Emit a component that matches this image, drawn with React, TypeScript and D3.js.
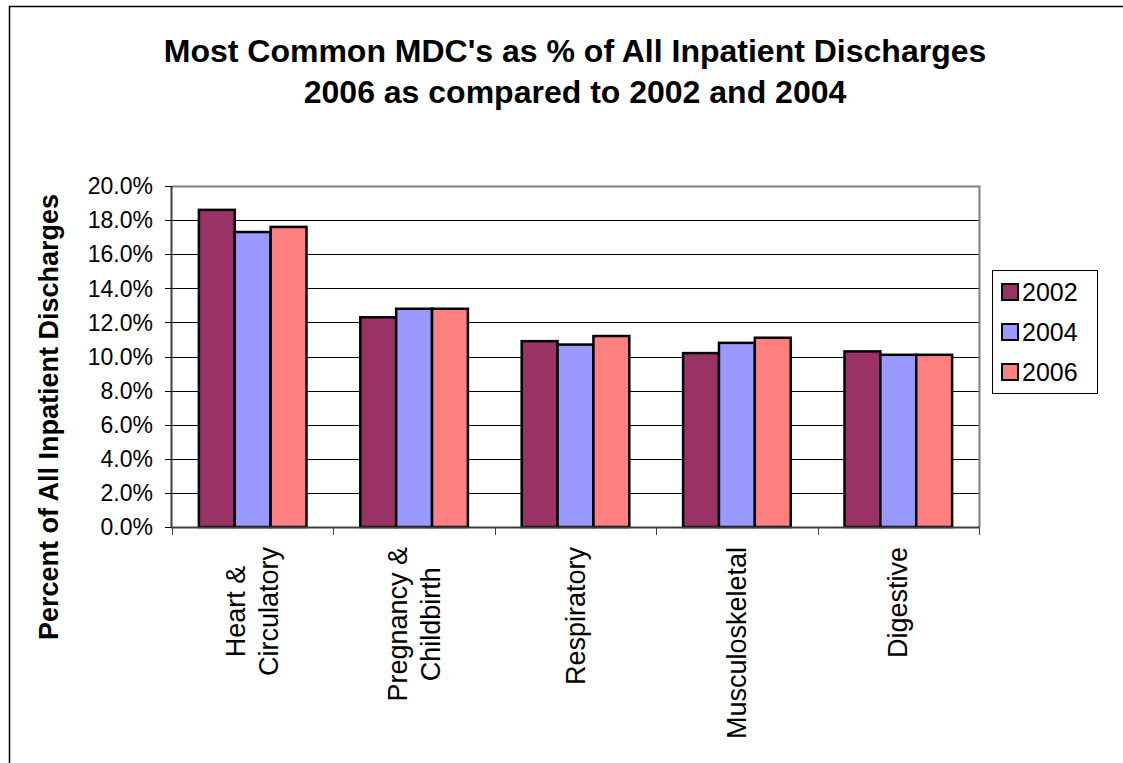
import React, { useEffect, useRef } from "react";
import * as d3 from "d3";

const categories = ["Heart & Circulatory", "Pregnancy & Childbirth", "Respiratory", "Musculoskeletal", "Digestive"];
const categoryLines = [["Heart &", "Circulatory"], ["Pregnancy &", "Childbirth"], ["Respiratory"], ["Musculoskeletal"], ["Digestive"]];
const seriesNames = ["2002", "2004", "2006"];
const values2002 = [0.186, 0.123, 0.109, 0.102, 0.103];
const values2004 = [0.173, 0.128, 0.107, 0.108, 0.101];
const values2006 = [0.176, 0.128, 0.112, 0.111, 0.101];
const seriesColors = ["#993366", "#9999FF", "#FF8080"];
const yTicks = [0, 0.02, 0.04, 0.06, 0.08, 0.1, 0.12, 0.14, 0.16, 0.18, 0.2];
const titleLines = ["Most Common MDC's as % of All Inpatient Discharges", "2006 as compared to 2002 and 2004"];
const yAxisTitle = "Percent of All Inpatient Discharges";

const W = 1123, H = 763;
const FONT = "'Liberation Sans', Arial, Helvetica, sans-serif";

export default function App() {
  const ref = useRef<SVGSVGElement | null>(null);
  useEffect(() => {
    document.body.style.margin = "0";
    document.body.style.overflow = "hidden";
    const svg = d3.select(ref.current!);
    svg.selectAll("*").remove();

    const left = 172, right = 979, top = 186, bottom = 527;
    const series = [values2002, values2004, values2006];

    // outer border
    svg.append("rect").attr("x", 9.5).attr("y", 6.5).attr("width", W + 20).attr("height", H + 20)
      .attr("fill", "white").attr("stroke", "black").attr("stroke-width", 1.5);

    // title
    const t = svg.append("text").attr("font-family", FONT).attr("font-weight", "bold").attr("font-size", 32)
      .attr("text-anchor", "middle").attr("fill", "black");
    titleLines.forEach((l, i) => t.append("tspan").attr("x", 575).attr("y", 62 + i * 41).text(l));

    const x = d3.scaleBand<string>().domain(categories).range([left, right]).padding(0);
    const y = d3.scaleLinear().domain([0, 0.2]).range([bottom, top]);
    const bw = x.bandwidth();
    const groupW = (bw * 3) / 4.5;
    const xi = d3.scaleBand<string>().domain(seriesNames).range([0, groupW]).padding(0);

    // gridlines
    svg.append("g").selectAll("line").data(yTicks.filter(v => v > 0 && v < 0.2)).join("line")
      .attr("x1", left).attr("x2", right).attr("y1", d => Math.round(y(d)) + 0.5).attr("y2", d => Math.round(y(d)) + 0.5)
      .attr("stroke", "#000").attr("stroke-width", 1);

    // plot border (top & right gray)
    svg.append("path").attr("d", `M${left},${top + 0.5}H${right + 0.5}V${bottom}`)
      .attr("fill", "none").attr("stroke", "#808080").attr("stroke-width", 2);

    // bars
    series.forEach((vals, si) => {
      svg.append("g").selectAll("rect").data(vals).join("rect")
        .attr("x", (_, i) => x(categories[i])! + (bw - groupW) / 2 + xi(seriesNames[si])!)
        .attr("y", d => y(d))
        .attr("width", xi.bandwidth())
        .attr("height", d => bottom - y(d))
        .attr("fill", seriesColors[si]).attr("stroke", "black").attr("stroke-width", 2.5);
    });

    // y axis
    const ya = svg.append("g");
    ya.append("line").attr("x1", left - 0.5).attr("x2", left - 0.5).attr("y1", top).attr("y2", bottom + 1)
      .attr("stroke", "#404040").attr("stroke-width", 2);
    ya.selectAll("line.tk").data(yTicks).join("line").attr("class", "tk")
      .attr("x1", left - 7).attr("x2", left).attr("y1", d => Math.round(y(d)) + 0.5).attr("y2", d => Math.round(y(d)) + 0.5)
      .attr("stroke", "#000");
    ya.selectAll("text").data(yTicks).join("text")
      .attr("x", 153).attr("y", d => y(d)).attr("dy", "0.36em").attr("text-anchor", "end")
      .attr("font-family", FONT).attr("font-size", 23).text(d => d3.format(".1%")(d));

    // x axis
    const xa = svg.append("g");
    xa.append("line").attr("x1", left - 1).attr("x2", right + 1).attr("y1", bottom + 0.5).attr("y2", bottom + 0.5)
      .attr("stroke", "#404040").attr("stroke-width", 2);
    const bounds = [left, ...categories.map(c => x(c)! + bw)];
    xa.selectAll("line.tk").data(bounds).join("line").attr("class", "tk")
      .attr("x1", d => Math.round(d) + 0.5).attr("x2", d => Math.round(d) + 0.5).attr("y1", bottom).attr("y2", bottom + 8)
      .attr("stroke", "#404040");

    categories.forEach((c, i) => {
      const lines = categoryLines[i];
      const cx = x(c)! + bw / 2;
      const g = xa.append("g");
      const texts = lines.map(l => g.append("text").attr("font-family", FONT).attr("font-size", 27)
        .attr("text-anchor", "middle").attr("dominant-baseline", "central").text(l));
      const maxLen = d3.max(texts, tt => (tt.node() as SVGTextElement).getComputedTextLength()) || 0;
      const cy = 547 + maxLen / 2;
      const spacing = 33;
      texts.forEach((tt, li) => {
        const off = (li - (lines.length - 1) / 2) * spacing;
        tt.attr("transform", `translate(${cx + off},${cy}) rotate(-90)`);
      });
    });

    // y axis title
    svg.append("text").attr("font-family", FONT).attr("font-weight", "bold").attr("font-size", 27)
      .attr("text-anchor", "middle").attr("transform", `translate(58,417) rotate(-90)`).text(yAxisTitle);

    // legend
    const lg = svg.append("g");
    lg.append("rect").attr("x", 992.5).attr("y", 270.5).attr("width", 105).attr("height", 123)
      .attr("fill", "white").attr("stroke", "black").attr("stroke-width", 1);
    seriesNames.forEach((s, i) => {
      const cy = 292 + i * 40;
      lg.append("rect").attr("x", 1002).attr("y", cy - 8).attr("width", 16).attr("height", 16)
        .attr("fill", seriesColors[i]).attr("stroke", "black").attr("stroke-width", 2);
      lg.append("text").attr("x", 1022).attr("y", cy).attr("dy", "0.36em").attr("font-family", FONT)
        .attr("font-size", 25).text(s);
    });
  }, []);
  return <svg ref={ref} width={W} height={H} style={{ position: "absolute", left: 0, top: 0, background: "white" }} />;
}
